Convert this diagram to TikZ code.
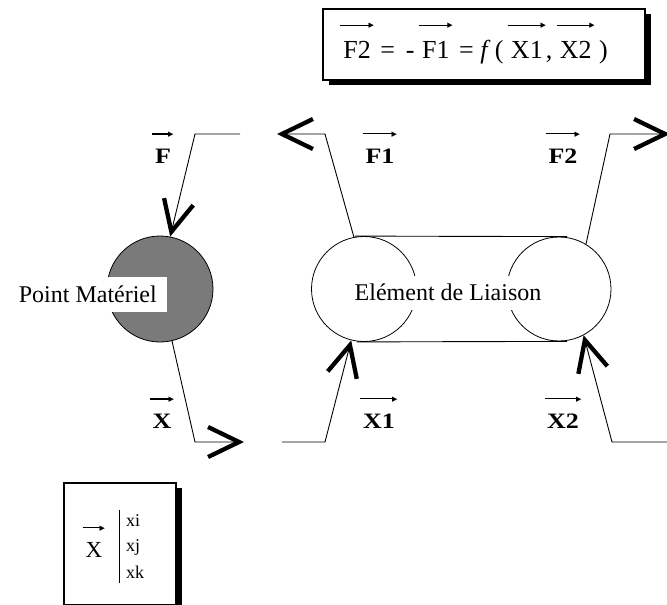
\documentclass[tikz,border=0pt]{standalone}
\usepackage{fontspec}
\setmainfont{Liberation Serif}
\newfontfamily\lblfont[FakeStretch=1.18]{Liberation Serif}
\newfontfamily\symfont{DejaVu Sans}
\usetikzlibrary{arrows.meta,shadows}
\newcommand\arrowrow{\leaders\hrule height 3.3pt depth -2.2pt\hfill\kern-1pt{\symfont\fontsize{7}{7}\selectfont ▶}}
\newcommand\vecup[2][11pt]{\leavevmode\vbox{\offinterlineskip\halign{##\cr\arrowrow\cr\noalign{\kern#1}\kern0.12em#2\kern0.12em\cr}}}
\begin{document}
\begin{tikzpicture}[x=1pt,y=-1pt,
  conn/.style={line width=0.9pt},
  bigtip/.style={-{Straight Barb[length=31pt,width=30pt,line width=4.3pt]}},
  ring/.style={circle,draw,line width=0.8pt,inner sep=0pt},
  lbl/.style={font=\lblfont\bfseries\fontsize{22}{24}\selectfont,anchor=base,inner sep=0pt},
  txt/.style={font=\fontsize{24}{28}\selectfont},
  small/.style={font=\fontsize{18}{20}\selectfont,anchor=base west,inner sep=0pt},
  shadowbox/.style={draw,fill=white,line width=1.2pt,inner sep=0pt,
     drop shadow={shadow xshift=6pt,shadow yshift=-5pt,opacity=1,fill=black}}]
\useasboundingbox (0,0) rectangle (667,605);
\clip (0,0) rectangle (667,605);

% formula box
\node[shadowbox,minimum width=322pt,minimum height=71pt] (fbox) at (484,44.5) {};
\node[font=\fontsize{26}{30}\selectfont,anchor=base,inner sep=0pt] (ftext) at (474,58)
  {\vecup[12pt]{F2} = \,-\,\vecup[12pt]{F1} = \textit{f}\,(\,\vecup[12pt]{X1},\,\vecup[12pt]{X2}\,)};

% point materiel
\node[ring,minimum size=106pt,fill=black!52] (pm) at (160,289) {};
\node[txt,fill=white,inner xsep=10pt,inner ysep=0pt,minimum height=35pt,anchor=east] (pmt) at (167,294.5) {Point Matériel};

% element de liaison
\node[ring,minimum size=105pt] (l1) at (364,289) {};
\node[ring,minimum size=104pt] (l2) at (559,289) {};
\draw[line width=0.9pt] ([xshift=-9pt]l1.north) -- ([xshift=8pt]l2.north);
\draw[line width=0.9pt] ([xshift=-7pt]l1.south) -- ([xshift=8pt]l2.south);
\node[txt,fill=white,inner xsep=3pt,inner ysep=0pt,minimum height=34pt] (lt) at (448,292.5) {Elément de Liaison};

% connectors
\coordinate (fs) at (240,134);
\coordinate (fc) at (195,134);
\draw[conn,bigtip] (fs) -- (fc) -- (pm.79);

\coordinate (f1c) at (325,134);
\coordinate (f1e) at (277,134);
\draw[conn,bigtip] (l1.101) -- (f1c) -- (f1e);

\coordinate (f2c) at (610,134);
\coordinate (f2e) at (670,134);
\draw[conn,bigtip] (l2.59) -- (f2c) -- (f2e);

\coordinate (xc) at (195,442);
\coordinate (xe) at (244,442);
\draw[conn,bigtip] (pm.-77) -- (xc) -- (xe);

\coordinate (x1s) at (282,442);
\coordinate (x1c) at (325,442);
\draw[conn,bigtip] (x1s) -- (x1c) -- (l1.-104);

\coordinate (x2s) at (670,442);
\coordinate (x2c) at (612,442);
\draw[conn,bigtip] (x2s) -- (x2c) -- (l2.-62);

% labels
\node[lbl] (lF) at (163,163) {\vecup{F}};
\node[lbl] (lF1) at (380,163) {\vecup{F1}};
\node[lbl] (lF2) at (563,163) {\vecup{F2}};
\node[lbl] (lX) at (162,428) {\vecup{X}};
\node[lbl] (lX1) at (379,428) {\vecup{X1}};
\node[lbl] (lX2) at (563,428) {\vecup{X2}};

% bottom box
\node[shadowbox,minimum width=112pt,minimum height=122pt,drop shadow={shadow xshift=4pt,shadow yshift=-5pt,opacity=1,fill=black}] (xbox) at (120,544) {};
\node[font=\fontsize{23}{26}\selectfont,anchor=base,inner sep=0pt] (xv) at (94,557) {\vecup[11pt]{X}};
\coordinate (bar1) at (119,510);
\coordinate (bar2) at (119,583);
\draw[line width=1pt] (bar1) -- (bar2);
\node[small] (xi) at (126,526) {xi};
\node[small] (xj) at (126,551) {xj};
\node[small] (xk) at (126,578) {xk};
\end{tikzpicture}
\end{document}
